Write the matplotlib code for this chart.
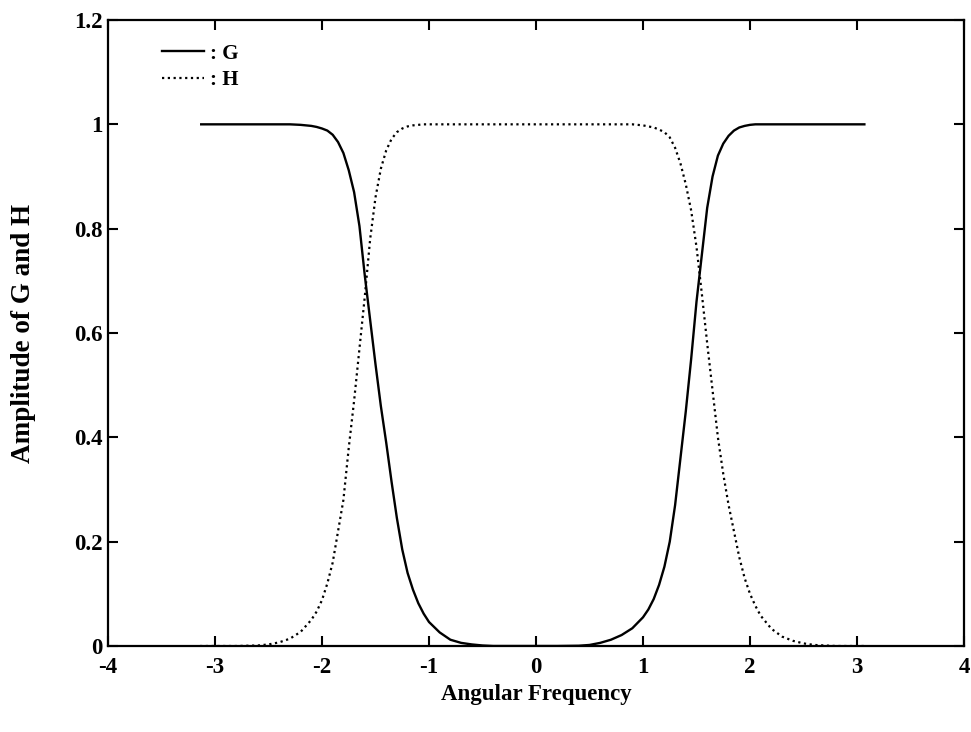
"""Amplitude responses of the G and H filters versus angular frequency."""

import matplotlib
matplotlib.use("Agg")
import matplotlib.pyplot as plt
from matplotlib.lines import Line2D

# angular frequency samples
freq = [
    -3.14, -2.8, -2.6, -2.5, -2.4, -2.3, -2.2, -2.1, -2.05, -2.0,
    -1.95, -1.9, -1.85, -1.8, -1.75, -1.7, -1.65, -1.6, -1.55, -1.5,
    -1.45, -1.4, -1.35, -1.3, -1.25, -1.2, -1.15, -1.1, -1.05, -1.0,
    -0.9, -0.8, -0.7, -0.6, -0.5, -0.4, -0.2, 0.0,
    0.2, 0.4, 0.5, 0.6, 0.7, 0.8, 0.9, 1.0,
    1.05, 1.1, 1.15, 1.2, 1.25, 1.3, 1.35, 1.4, 1.45, 1.5,
    1.55, 1.6, 1.65, 1.7, 1.75, 1.8, 1.85, 1.9, 1.95, 2.0,
    2.05, 2.1, 2.2, 2.3, 2.4, 2.5, 2.6, 2.8, 3.08,
]

amp_g = [
    1.0, 1.0, 1.0, 1.0, 1.0, 1.0, 0.999, 0.997, 0.995, 0.992,
    0.988, 0.980, 0.966, 0.945, 0.912, 0.870, 0.805, 0.71, 0.625, 0.54,
    0.46, 0.39, 0.315, 0.245, 0.185, 0.14, 0.108, 0.082, 0.062, 0.046,
    0.026, 0.012, 0.006, 0.003, 0.001, 0.0, 0.0, 0.0,
    0.0, 0.0005, 0.002, 0.006, 0.012, 0.021, 0.034, 0.055,
    0.07, 0.09, 0.117, 0.152, 0.20, 0.27, 0.36, 0.45, 0.55, 0.66,
    0.75, 0.84, 0.90, 0.94, 0.963, 0.978, 0.988, 0.994, 0.997, 0.999,
    1.0, 1.0, 1.0, 1.0, 1.0, 1.0, 1.0, 1.0, 1.0,
]

amp_h = [
    0.0, 0.0, 0.001, 0.003, 0.007, 0.014, 0.027, 0.05, 0.066, 0.088,
    0.12, 0.16, 0.22, 0.28, 0.38, 0.47, 0.57, 0.67, 0.78, 0.86,
    0.915, 0.95, 0.972, 0.985, 0.992, 0.996, 0.998, 0.999, 1.0, 1.0,
    1.0, 1.0, 1.0, 1.0, 1.0, 1.0, 1.0, 1.0,
    1.0, 1.0, 1.0, 1.0, 1.0, 1.0, 1.0, 0.998,
    0.996, 0.994, 0.99, 0.985, 0.975, 0.955, 0.925, 0.885, 0.835, 0.765,
    0.675, 0.58, 0.49, 0.40, 0.33, 0.27, 0.22, 0.17, 0.13, 0.10,
    0.077, 0.058, 0.033, 0.018, 0.010, 0.005, 0.002, 0.0, 0.0,
]

xticks = [-4, -3, -2, -1, 0, 1, 2, 3, 4]
yticks = [0, 0.2, 0.4, 0.6, 0.8, 1.0, 1.2]
ytick_labels = ["0", "0.2", "0.4", "0.6", "0.8", "1", "1.2"]

plt.rcParams["font.family"] = ["Liberation Serif", "DejaVu Serif"]
plt.rcParams["font.weight"] = "bold"
plt.rcParams["axes.labelweight"] = "bold"

fig = plt.figure(figsize=(9.71, 7.32), dpi=100)
ax = fig.add_axes([108 / 971, 1 - 646 / 732, 856 / 971, 626 / 732])

dotted = (0, (1.0, 1.6))
ax.plot(freq, amp_g, color="black", lw=1.7, solid_capstyle="butt")
ax.plot(freq, amp_h, color="black", lw=1.6, linestyle=dotted)

ax.set_xlim(-4, 4)
ax.set_ylim(0, 1.2)
ax.set_xticks(xticks)
ax.set_xticklabels([str(t) for t in xticks])
ax.set_yticks(yticks)
ax.set_yticklabels(ytick_labels)
ax.tick_params(direction="in", length=7, width=1.5, top=True, right=True,
               labelsize=16.5)
ax.tick_params(axis="x", pad=8)
ax.tick_params(axis="y", pad=4)
for s in ax.spines.values():
    s.set_linewidth(1.6)

ax.set_xlabel("Angular Frequency", fontsize=16.5, labelpad=4)
ax.set_ylabel("Amplitude of G and H", fontsize=19.5, labelpad=27)

handles = [
    Line2D([], [], color="black", lw=1.7),
    Line2D([], [], color="black", lw=1.6, linestyle=dotted),
]
ax.legend(handles, [": G", ": H"], loc="upper left",
          bbox_to_anchor=(0.063, 0.962), frameon=False, fontsize=15,
          handlelength=2.0, handletextpad=0.3, labelspacing=0.3,
          borderpad=0, borderaxespad=0)

fig.savefig("out.png", dpi=100)
